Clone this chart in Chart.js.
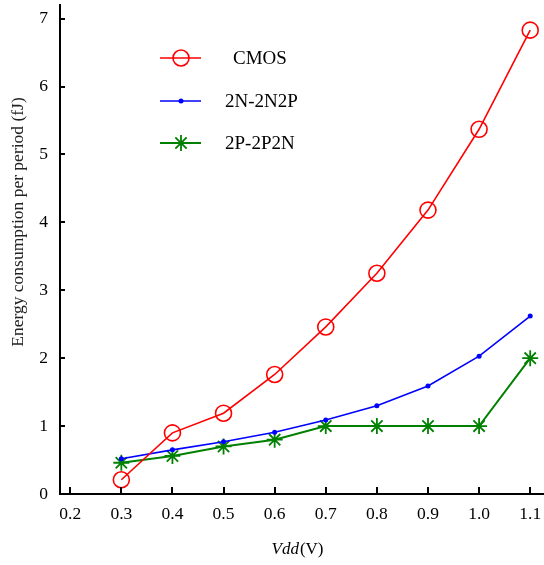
<!DOCTYPE html>
<html>
<head>
<meta charset="utf-8">
<script src="https://cdn.jsdelivr.net/npm/chart.js@4/dist/chart.umd.min.js"></script>
<style>
  html, body { margin: 0; padding: 0; background: #fff; }
  #wrap { position: relative; width: 544px; height: 565px; }
</style>
</head>
<body>
<div id="wrap"><canvas id="c" width="544" height="565"></canvas></div>
<script>
const vdd = [0.3, 0.4, 0.5, 0.6, 0.7, 0.8, 0.9, 1.0, 1.1];
const cmos = [0.21, 0.90, 1.19, 1.76, 2.46, 3.25, 4.18, 5.37, 6.83];
const n2n2p = [0.52, 0.65, 0.77, 0.91, 1.09, 1.30, 1.59, 2.03, 2.62];
const p2p2n = [0.46, 0.56, 0.70, 0.80, 1.00, 1.00, 1.00, 1.00, 2.00];
const xTicks = [0.2, 0.3, 0.4, 0.5, 0.6, 0.7, 0.8, 0.9, 1.0, 1.1];
const yTicks = [0, 1, 2, 3, 4, 5, 6, 7];
const seriesNames = ['CMOS', '2N-2N2P', '2P-2P2N'];
const xTitleItalic = 'Vdd';
const xTitleRest = '(V)';
const yTitle = 'Energy consumption per period (fJ)';

const SERIF = '"Liberation Serif", "Times New Roman", serif';

function pts(ys) { return vdd.map((x, i) => ({ x: x, y: ys[i] })); }

const styles = [
  { color: '#ff0000', pointStyle: 'circle', radius: 8, bw: 1.6, lw: 1.6, fill: 'rgba(0,0,0,0)' },
  { color: '#0000ff', pointStyle: 'circle', radius: 2.5, bw: 0, lw: 1.6, fill: '#0000ff' },
  { color: '#008000', pointStyle: 'star', radius: 8, bw: 1.8, lw: 2, fill: 'rgba(0,0,0,0)' }
];

const allData = [cmos, n2n2p, p2p2n];

const datasets = allData.map((d, i) => ({
  label: seriesNames[i],
  data: pts(d),
  borderColor: styles[i].color,
  backgroundColor: styles[i].fill,
  borderWidth: styles[i].lw,
  pointStyle: styles[i].pointStyle,
  pointRadius: styles[i].radius,
  pointBorderWidth: styles[i].bw,
  pointBorderColor: styles[i].color,
  pointBackgroundColor: styles[i].fill,
  tension: 0,
  fill: false
}));

const extras = {
  id: 'extras',
  afterDraw(chart) {
    const ctx = chart.ctx;
    const xs = chart.scales.x, ys = chart.scales.y;
    const area = chart.chartArea;
    ctx.save();
    // inward ticks
    ctx.strokeStyle = '#000';
    ctx.lineWidth = 2;
    xTicks.forEach(v => {
      const px = Math.round(xs.getPixelForValue(v));
      ctx.beginPath(); ctx.moveTo(px, area.bottom); ctx.lineTo(px, area.bottom - 7); ctx.stroke();
    });
    yTicks.forEach(v => {
      const py = Math.round(ys.getPixelForValue(v));
      ctx.beginPath(); ctx.moveTo(area.left, py); ctx.lineTo(area.left + 5, py); ctx.stroke();
    });
    // legend
    const legX1 = 160, legX2 = 201, legMX = 181;
    const legY = [58, 101, 143];
    const textX = [233, 225, 225];
    ctx.font = '19px ' + SERIF;
    ctx.textBaseline = 'middle';
    ctx.textAlign = 'left';
    styles.forEach((s, i) => {
      ctx.strokeStyle = s.color;
      ctx.lineWidth = s.lw;
      ctx.beginPath(); ctx.moveTo(legX1, legY[i]); ctx.lineTo(legX2, legY[i]); ctx.stroke();
      ctx.fillStyle = s.fill;
      ctx.lineWidth = s.bw;
      Chart.helpers.drawPoint(ctx, { pointStyle: s.pointStyle, radius: s.radius, rotation: 0, borderWidth: s.bw }, legMX, legY[i]);
      ctx.fillStyle = '#000';
      ctx.fillText(seriesNames[i], textX[i], legY[i] + 1);
    });
    // x title
    ctx.fillStyle = '#000';
    ctx.textBaseline = 'middle';
    const f1 = 'italic 17px ' + SERIF, f2 = '17px ' + SERIF;
    ctx.font = f1; const w1 = ctx.measureText(xTitleItalic).width;
    ctx.font = f2; const w2 = ctx.measureText(xTitleRest).width;
    const cx = 297, cy = 550;
    let sx = cx - (w1 + w2) / 2;
    ctx.font = f1; ctx.fillText(xTitleItalic, sx, cy);
    ctx.font = f2; ctx.fillText(xTitleRest, sx + w1 + 1, cy);
    // y title
    ctx.translate(18, 222);
    ctx.rotate(-Math.PI / 2);
    ctx.textAlign = 'center';
    ctx.font = '17.5px ' + SERIF;
    ctx.fillStyle = '#222';
    ctx.fillText(yTitle, 0, 0);
    ctx.restore();
  }
};

new Chart(document.getElementById('c'), {
  type: 'line',
  data: { datasets: datasets },
  plugins: [extras],
  options: {
    responsive: false,
    animation: false,
    devicePixelRatio: 1,
    layout: { autoPadding: false, padding: { top: 5, right: 0, left: 0, bottom: 0 } },
    plugins: { legend: { display: false }, tooltip: { enabled: false } },
    scales: {
      x: {
        type: 'linear',
        min: 0.18,
        max: 1.127,
        afterBuildTicks: s => { s.ticks = xTicks.map(v => ({ value: v })); },
        afterFit: s => { s.height = 71; s.paddingLeft = 0; s.paddingRight = 0; },
        grid: { display: true, drawOnChartArea: false, drawTicks: false },
        border: { display: true, color: '#000', width: 2 },
        ticks: {
          padding: 10,
          color: '#000',
          font: { family: SERIF, size: 17.5 },
          maxRotation: 0,
          autoSkip: false,
          callback: v => v.toFixed(1)
        }
      },
      y: {
        type: 'linear',
        min: 0,
        max: 7.2,
        afterBuildTicks: s => { s.ticks = yTicks.map(v => ({ value: v })); },
        afterFit: s => { s.width = 60; s.paddingTop = 0; s.paddingBottom = 0; },
        grid: { display: true, drawOnChartArea: false, drawTicks: false },
        border: { display: true, color: '#000', width: 2 },
        ticks: {
          padding: 12,
          color: '#000',
          font: { family: SERIF, size: 17.5 },
          autoSkip: false,
          callback: v => String(v)
        }
      }
    }
  }
});
</script>
</body>
</html>
